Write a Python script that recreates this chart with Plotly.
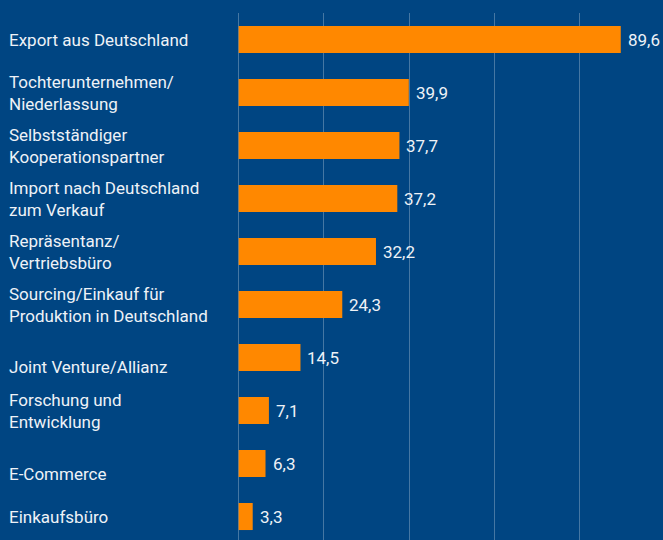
import plotly.graph_objects as go

categories = [
    "Export aus Deutschland",
    "Tochterunternehmen/<br>Niederlassung",
    "Selbstständiger<br>Kooperationspartner",
    "Import nach Deutschland<br>zum Verkauf",
    "Repräsentanz/<br>Vertriebsbüro",
    "Sourcing/Einkauf für<br>Produktion in Deutschland",
    "Joint Venture/Allianz",
    "Forschung und<br>Entwicklung",
    "E-Commerce",
    "Einkaufsbüro",
]
values = [89.6, 39.9, 37.7, 37.2, 32.2, 24.3, 14.5, 7.1, 6.3, 3.3]
value_labels = ["89,6", "39,9", "37,7", "37,2", "32,2", "24,3", "14,5", "7,1", "6,3", "3,3"]

W, H = 663, 540
L, R, T, B = 238, 0, 13, 0
BG = "#004582"
ORANGE = "#FF8800"
TXT = "#EEF2F7"
GRID = "rgba(255,255,255,0.27)"
label_yshift = {"Joint Venture/Allianz": -9, "E-Commerce": -10}

idx = list(range(len(categories)))

fig = go.Figure()
fig.add_trace(go.Bar(
    x=values, y=idx, orientation="h",
    marker=dict(color=ORANGE, line=dict(width=0)),
    width=0.51,
    hoverinfo="skip",
))

annotations = []
for i, (c, v, t) in enumerate(zip(categories, values, value_labels)):
    annotations.append(dict(
        x=v, y=i, xref="x", yref="y", text=t, showarrow=False,
        xanchor="left", yanchor="middle", xshift=5,
        font=dict(family="Roboto", size=17, color=TXT),
    ))
    annotations.append(dict(
        x=-(L - 7) / (W - L - R), y=i, xref="x domain", yref="y", text=c,
        showarrow=False, xanchor="left", yanchor="middle", align="left",
        yshift=label_yshift.get(c, 0),
        font=dict(family="Roboto", size=17, color=TXT),
    ))

fig.update_layout(
    width=W, height=H,
    margin=dict(l=L, r=R, t=T, b=B, pad=0),
    paper_bgcolor=BG, plot_bgcolor=BG,
    showlegend=False,
    annotations=annotations,
    xaxis=dict(range=[-0.15, 99.5], showticklabels=False, showgrid=True,
               gridcolor=GRID, gridwidth=1.3, dtick=20,
               zeroline=True, zerolinecolor=GRID, zerolinewidth=1.3,
               showline=False, ticks=""),
    yaxis=dict(range=[9.443, -0.5], showticklabels=False, showgrid=False,
               zeroline=False, showline=False, ticks=""),
)
fig.write_html("out.html", config={"displayModeBar": False},
               post_script="document.body.style.margin='0';document.body.style.overflow='hidden';")
